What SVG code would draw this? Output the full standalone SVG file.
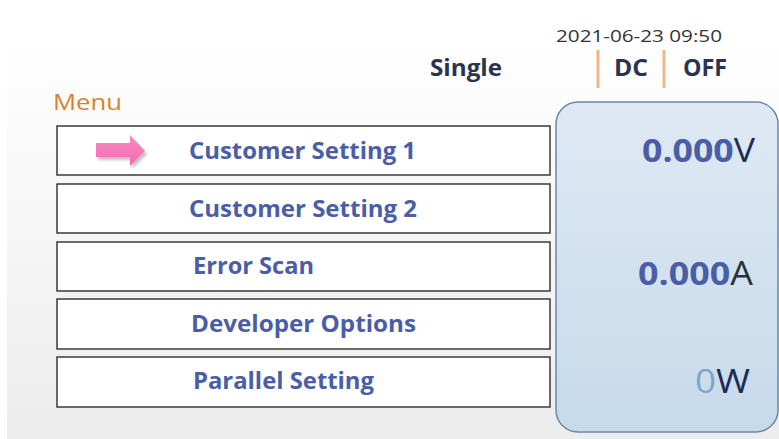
<svg xmlns="http://www.w3.org/2000/svg" width="779" height="439" viewBox="0 0 779 439">
<defs>
<linearGradient id="bg" x1="0" y1="0" x2="0" y2="1">
<stop offset="0" stop-color="#ffffff"/>
<stop offset="1" stop-color="#ececec"/>
</linearGradient>
<linearGradient id="panel" x1="0" y1="0" x2="0" y2="1">
<stop offset="0" stop-color="#dfe9f4"/>
<stop offset="1" stop-color="#c7daea"/>
</linearGradient>
<linearGradient id="pink" x1="0" y1="0" x2="0" y2="1">
<stop offset="0" stop-color="#f98cc4"/>
<stop offset="1" stop-color="#f26aae"/>
</linearGradient>
<filter id="sh" x="-20%" y="-20%" width="150%" height="160%">
<feGaussianBlur in="SourceAlpha" stdDeviation="1.5"/>
<feOffset dx="2" dy="3"/>
<feComponentTransfer><feFuncA type="linear" slope="0.25"/></feComponentTransfer>
<feMerge><feMergeNode/><feMergeNode in="SourceGraphic"/></feMerge>
</filter>
</defs>
<style>
.box{fill:#ffffff;stroke:#3a3a3a;stroke-width:1.5}
.item{font-family:"Open Sans",Lato,sans-serif;font-weight:bold;font-size:24px;fill:#4a5ea8}
.hdr{font-family:"Open Sans",Lato,sans-serif;font-weight:bold;font-size:23px;fill:#2a3450}
.big{font-family:"Open Sans",Lato,sans-serif;font-size:32px}
.sep{stroke:#f0b58a;stroke-width:3}
</style>
<rect x="0" y="0" width="779" height="439" fill="#ffffff"/>
<rect x="7" y="40" width="772" height="399" fill="url(#bg)"/>
<g id="header">
<text x="556" y="42" font-family="'Open Sans',Lato,sans-serif" font-size="16" fill="#333" textLength="166" lengthAdjust="spacingAndGlyphs">2021-06-23 09:50</text>
<text class="hdr" x="430" y="76" textLength="72" lengthAdjust="spacingAndGlyphs">Single</text>
<line class="sep" x1="598" y1="50" x2="598" y2="88"/>
<text class="hdr" x="614" y="76" fill="#1f2b4d" textLength="34" lengthAdjust="spacingAndGlyphs">DC</text>
<line class="sep" x1="664" y1="50" x2="664" y2="88"/>
<text class="hdr" x="683" y="76" textLength="44" lengthAdjust="spacingAndGlyphs">OFF</text>
<text x="53" y="110" font-family="'Open Sans',Lato,sans-serif" font-size="22" fill="#d9822b" textLength="69" lengthAdjust="spacingAndGlyphs">Menu</text>
</g>
<g id="item1">
<rect class="box" x="57" y="126" width="493" height="49"/>
<polygon points="96,143 130,143 130,135 145,151 130,166 130,157 96,157" fill="url(#pink)" filter="url(#sh)"/>
<text class="item" x="189" y="159" textLength="227" lengthAdjust="spacingAndGlyphs">Customer Setting 1</text>
</g>
<g id="item2">
<rect class="box" x="57" y="184" width="493" height="49"/>
<text class="item" x="189" y="217" textLength="228" lengthAdjust="spacingAndGlyphs">Customer Setting 2</text>
</g>
<g id="item3">
<rect class="box" x="57" y="242" width="493" height="49"/>
<text class="item" x="193" y="274" textLength="121" lengthAdjust="spacingAndGlyphs">Error Scan</text>
</g>
<g id="item4">
<rect class="box" x="57" y="299" width="493" height="50"/>
<text class="item" x="191" y="332" textLength="225" lengthAdjust="spacingAndGlyphs">Developer Options</text>
</g>
<g id="item5">
<rect class="box" x="57" y="357" width="493" height="50"/>
<text class="item" x="193" y="389" textLength="181" lengthAdjust="spacingAndGlyphs">Parallel Setting</text>
</g>
<g id="readout">
<rect x="556" y="102" width="222" height="330" rx="22" ry="22" fill="url(#panel)" stroke="#6a88a8" stroke-width="1.5"/>
<text class="big" x="642" y="162" textLength="113" lengthAdjust="spacingAndGlyphs"><tspan font-weight="bold" fill="#4a5ea8">0.000</tspan><tspan fill="#1d2c55">V</tspan></text>
<text class="big" x="638" y="285" textLength="115" lengthAdjust="spacingAndGlyphs"><tspan font-weight="bold" fill="#4a5ea8">0.000</tspan><tspan fill="#2a2f3a">A</tspan></text>
<text class="big" x="695" y="393" textLength="55" lengthAdjust="spacingAndGlyphs"><tspan fill="#7ea6cc">0</tspan><tspan fill="#1d2c55">W</tspan></text>
</g>
</svg>
